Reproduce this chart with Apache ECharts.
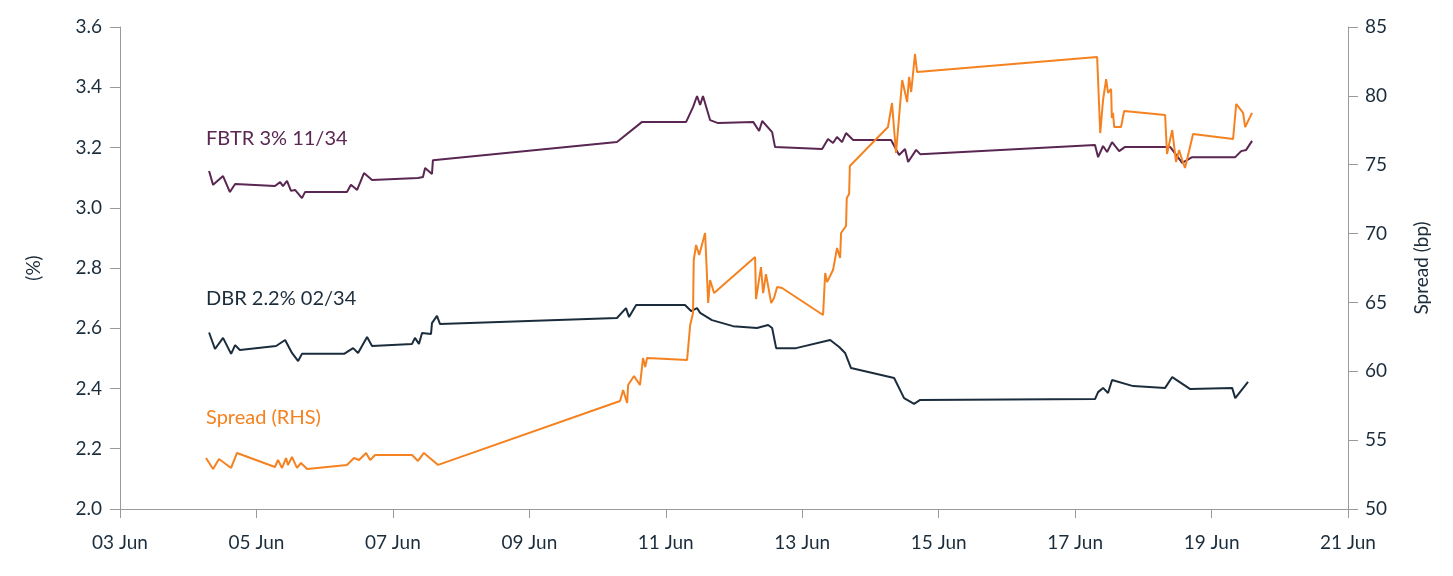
<!DOCTYPE html>
<html>
<head>
<meta charset="utf-8">
<script src="https://cdn.jsdelivr.net/npm/echarts@6/dist/echarts.min.js"></script>
<style>
  html, body { margin: 0; padding: 0; background: #fff; }
  #chart { width: 1453px; height: 576px; }
</style>
</head>
<body>
<div id="chart"></div>
<script>
// tick labels
const xTickDays = [3, 5, 7, 9, 11, 13, 15, 17, 19, 21];

// FBTR 3% 11/34 yield (%)
const fbtrTimes = [
  "2024-06-04 07:20", "2024-06-04 08:45", "2024-06-04 12:15", "2024-06-04 14:40", "2024-06-04 16:30",
  "2024-06-05 06:30", "2024-06-05 08:20", "2024-06-05 09:20", "2024-06-05 10:45", "2024-06-05 12:10",
  "2024-06-05 13:35", "2024-06-05 16:00", "2024-06-05 17:05", "2024-06-06 07:50", "2024-06-06 09:15",
  "2024-06-06 11:25", "2024-06-06 13:50", "2024-06-06 16:40", "2024-06-07 08:50", "2024-06-07 10:35",
  "2024-06-07 11:20", "2024-06-07 13:45", "2024-06-07 14:05", "2024-06-10 06:50", "2024-06-10 15:40",
  "2024-06-11 07:10", "2024-06-11 09:35", "2024-06-11 11:00", "2024-06-11 12:05", "2024-06-11 13:05",
  "2024-06-11 15:35", "2024-06-11 18:25", "2024-06-12 06:45", "2024-06-12 08:50", "2024-06-12 09:55",
  "2024-06-12 13:25", "2024-06-12 14:25", "2024-06-13 07:00", "2024-06-13 09:05", "2024-06-13 10:50",
  "2024-06-13 12:15", "2024-06-13 14:00", "2024-06-13 15:25", "2024-06-13 17:55", "2024-06-14 07:15",
  "2024-06-14 10:05", "2024-06-14 12:10", "2024-06-14 13:15", "2024-06-14 16:05", "2024-06-14 17:30",
  "2024-06-17 07:00", "2024-06-17 08:05", "2024-06-17 09:50", "2024-06-17 11:15", "2024-06-17 13:00",
  "2024-06-17 15:30", "2024-06-17 17:35", "2024-06-18 07:00", "2024-06-18 09:25", "2024-06-18 13:40",
  "2024-06-18 17:10", "2024-06-19 08:20", "2024-06-19 10:25", "2024-06-19 12:10", "2024-06-19 14:15"
];
const fbtrYield = [
  3.122, 3.076, 3.105, 3.052, 3.079,
  3.072, 3.085, 3.072, 3.089, 3.056,
  3.059, 3.032, 3.052, 3.052, 3.076,
  3.059, 3.115, 3.092, 3.099, 3.102,
  3.132, 3.112, 3.158, 3.218, 3.285,
  3.285, 3.334, 3.371, 3.341, 3.371,
  3.291, 3.281, 3.285, 3.255, 3.288,
  3.251, 3.202, 3.195, 3.228, 3.215,
  3.235, 3.218, 3.248, 3.225, 3.225,
  3.175, 3.195, 3.152, 3.192, 3.178,
  3.208, 3.168, 3.205, 3.185, 3.218,
  3.188, 3.202, 3.202, 3.202, 3.149,
  3.168, 3.168, 3.188, 3.192, 3.222
];

// DBR 2.2% 02/34 yield (%)
const dbrTimes = [
  "2024-06-04 07:20", "2024-06-04 09:25", "2024-06-04 12:15", "2024-06-04 15:05", "2024-06-04 16:30",
  "2024-06-04 18:10", "2024-06-05 06:55", "2024-06-05 10:05", "2024-06-05 12:30", "2024-06-05 14:40",
  "2024-06-05 16:00", "2024-06-06 06:50", "2024-06-06 10:00", "2024-06-06 11:45", "2024-06-06 14:55",
  "2024-06-06 16:40", "2024-06-07 06:45", "2024-06-07 07:45", "2024-06-07 09:10", "2024-06-07 10:15",
  "2024-06-07 13:25", "2024-06-07 13:45", "2024-06-07 15:30", "2024-06-07 16:35", "2024-06-10 06:50",
  "2024-06-10 10:00", "2024-06-10 11:05", "2024-06-10 13:35", "2024-06-11 06:45", "2024-06-11 08:55",
  "2024-06-11 11:00", "2024-06-11 12:05", "2024-06-11 16:15", "2024-06-11 23:40", "2024-06-12 08:05",
  "2024-06-12 12:00", "2024-06-12 13:25", "2024-06-12 14:50", "2024-06-12 21:50", "2024-06-13 09:50",
  "2024-06-13 13:00", "2024-06-13 15:05", "2024-06-13 17:10", "2024-06-14 08:20", "2024-06-14 11:50",
  "2024-06-14 15:20", "2024-06-14 17:30", "2024-06-17 07:00", "2024-06-17 08:05", "2024-06-17 09:50",
  "2024-06-17 11:35", "2024-06-17 13:00", "2024-06-17 20:25", "2024-06-18 07:40", "2024-06-18 10:10",
  "2024-06-18 16:30", "2024-06-19 07:15", "2024-06-19 08:20", "2024-06-19 12:50"
];
const dbrYield = [
  2.586, 2.531, 2.568, 2.515, 2.544,
  2.528, 2.541, 2.561, 2.518, 2.491,
  2.515, 2.515, 2.534, 2.518, 2.571,
  2.541, 2.548, 2.568, 2.548, 2.584,
  2.581, 2.617, 2.641, 2.614, 2.634,
  2.667, 2.637, 2.677, 2.677, 2.657,
  2.667, 2.651, 2.627, 2.607, 2.601,
  2.611, 2.601, 2.534, 2.534, 2.561,
  2.538, 2.518, 2.468, 2.435, 2.368,
  2.349, 2.362, 2.365, 2.388, 2.402,
  2.385, 2.428, 2.408, 2.402, 2.438,
  2.398, 2.402, 2.368, 2.422
];

// Spread (bp), right axis
const spreadTimes = [
  "2024-06-04 06:15", "2024-06-04 08:45", "2024-06-04 10:50", "2024-06-04 15:05", "2024-06-04 17:10",
  "2024-06-05 06:30", "2024-06-05 07:35", "2024-06-05 09:00", "2024-06-05 10:25", "2024-06-05 11:05",
  "2024-06-05 12:30", "2024-06-05 14:15", "2024-06-05 15:40", "2024-06-05 17:50", "2024-06-06 07:50",
  "2024-06-06 10:20", "2024-06-06 12:05", "2024-06-06 14:35", "2024-06-06 16:00", "2024-06-06 17:45",
  "2024-06-07 06:45", "2024-06-07 08:50", "2024-06-07 10:55", "2024-06-07 15:55", "2024-06-10 07:55",
  "2024-06-10 09:00", "2024-06-10 10:25", "2024-06-10 10:45", "2024-06-10 12:50", "2024-06-10 14:55",
  "2024-06-10 16:00", "2024-06-10 16:45", "2024-06-10 17:25", "2024-06-11 07:30", "2024-06-11 08:35",
  "2024-06-11 09:35", "2024-06-11 09:50", "2024-06-11 10:40", "2024-06-11 11:45", "2024-06-11 13:50",
  "2024-06-11 14:55", "2024-06-11 15:35", "2024-06-11 17:00", "2024-06-12 07:25", "2024-06-12 07:45",
  "2024-06-12 09:30", "2024-06-12 10:15", "2024-06-12 11:15", "2024-06-12 13:05", "2024-06-12 14:05",
  "2024-06-12 15:10", "2024-06-12 16:55", "2024-06-13 07:20", "2024-06-13 08:05", "2024-06-13 08:45",
  "2024-06-13 10:50", "2024-06-13 12:15", "2024-06-13 13:20", "2024-06-13 13:40", "2024-06-13 15:25",
  "2024-06-13 15:40", "2024-06-13 16:30", "2024-06-13 16:45", "2024-06-14 06:10", "2024-06-14 07:35",
  "2024-06-14 09:00", "2024-06-14 11:10", "2024-06-14 12:55", "2024-06-14 13:35", "2024-06-14 14:20",
  "2024-06-14 15:40", "2024-06-14 16:25", "2024-06-17 07:45", "2024-06-17 08:50", "2024-06-17 09:50",
  "2024-06-17 10:55", "2024-06-17 11:35", "2024-06-17 12:40", "2024-06-17 12:55", "2024-06-17 13:20",
  "2024-06-17 13:45", "2024-06-17 16:10", "2024-06-17 17:15", "2024-06-18 07:40", "2024-06-18 08:20",
  "2024-06-18 10:10", "2024-06-18 11:30", "2024-06-18 12:35", "2024-06-18 13:40", "2024-06-18 14:40",
  "2024-06-18 17:30", "2024-06-19 07:35", "2024-06-19 08:40", "2024-06-19 11:05", "2024-06-19 11:50",
  "2024-06-19 14:15"
];
const spreadBp = [
  53.70, 52.90, 53.63, 52.98, 54.07,
  53.05, 53.56, 52.98, 53.70, 53.20,
  53.78, 52.98, 53.34, 52.90, 53.20,
  53.70, 53.56, 54.07, 53.56, 53.92,
  53.92, 53.49, 54.07, 53.20, 57.84,
  58.64, 57.70, 59.00, 59.66, 59.00,
  60.96, 60.31, 60.96, 60.82, 63.36,
  64.23, 68.08, 69.17, 68.44, 70.04,
  64.96, 66.63, 65.68, 68.30, 65.25,
  67.57, 65.68, 67.06, 64.96, 65.32,
  66.12, 66.05, 64.09, 67.14, 66.48,
  67.35, 68.95, 68.23, 70.04, 70.55,
  72.58, 72.87, 74.91, 77.74, 79.48,
  75.85, 81.15, 79.55, 81.37, 80.28,
  83.04, 81.73, 82.82, 77.30, 79.70,
  81.22, 80.21, 80.50, 78.39, 78.76,
  77.74, 77.74, 78.90, 78.61, 75.78,
  77.52, 75.20, 76.07, 75.34, 74.76,
  77.23, 76.87, 79.41, 78.76, 77.74,
  78.76
];

// days since 1 Jun, so the 2-day ticks land on odd dates
function toDay(s) {
  const d = +s.slice(8, 10), h = +s.slice(11, 13), m = +s.slice(14, 16);
  return d - 1 + h / 24 + m / 1440;
}
function pairs(times, vals) {
  return times.map((t, i) => [toDay(t), vals[i]]);
}

const navy = "#1b2d3c";
const purple = "#5a2652";
const orange = "#f58220";
const axisGrey = "#9a9a9a";
const font = "Lato";

let myChart = echarts.init(document.getElementById("chart"));

let option = {
  animation: false,
  textStyle: { fontFamily: font },
  grid: { left: 120, right: 105, top: 27, bottom: 67 },
  xAxis: {
    type: "value",
    min: xTickDays[0] - 1,
    max: xTickDays[xTickDays.length - 1] - 1,
    interval: 2,
    axisLine: { show: true, lineStyle: { color: axisGrey, width: 1 } },
    axisTick: { show: true, length: 9, lineStyle: { color: axisGrey } },
    splitLine: { show: false },
    axisLabel: {
      color: navy,
      fontSize: 19,
      fontFamily: font,
      margin: 24,
      formatter: (v) => String(v + 1).padStart(2, "0") + " Jun",
    },
  },
  yAxis: [
    {
      type: "value",
      min: 2.0,
      max: 3.6,
      interval: 0.2,
      name: "(%)",
      nameLocation: "middle",
      nameGap: 77,
      nameTextStyle: { color: navy, fontSize: 19, fontFamily: font },
      axisLine: { show: true, lineStyle: { color: axisGrey, width: 1 } },
      axisTick: { show: true, length: 10, lineStyle: { color: axisGrey } },
      splitLine: { show: false },
      axisLabel: {
        color: navy,
        fontSize: 19,
        fontFamily: font,
        margin: 18,
        formatter: (v) => v.toFixed(1),
      },
    },
    {
      type: "value",
      min: 50,
      max: 85,
      interval: 5,
      position: "right",
      name: "Spread (bp)",
      nameLocation: "middle",
      nameGap: 64,
      nameTextStyle: { color: navy, fontSize: 19, fontFamily: font },
      axisLine: { show: true, lineStyle: { color: axisGrey, width: 1 } },
      axisTick: { show: true, length: 10, lineStyle: { color: axisGrey } },
      splitLine: { show: false },
      axisLabel: { color: navy, fontSize: 19, fontFamily: font, margin: 17 },
    },
  ],
  graphic: [
    { type: "text", left: 206, top: 129, style: { text: "FBTR 3% 11/34", fill: purple, font: "20px Lato" } },
    { type: "text", left: 206, top: 289, style: { text: "DBR 2.2% 02/34", fill: navy, font: "20px Lato" } },
    { type: "text", left: 206, top: 408, style: { text: "Spread (RHS)", fill: orange, font: "20px Lato" } },
  ],
  series: [
    {
      name: "FBTR 3% 11/34",
      type: "line",
      yAxisIndex: 0,
      data: pairs(fbtrTimes, fbtrYield),
      showSymbol: false,
      lineStyle: { color: purple, width: 2 },
      itemStyle: { color: purple },
    },
    {
      name: "DBR 2.2% 02/34",
      type: "line",
      yAxisIndex: 0,
      data: pairs(dbrTimes, dbrYield),
      showSymbol: false,
      lineStyle: { color: navy, width: 2 },
      itemStyle: { color: navy },
    },
    {
      name: "Spread (RHS)",
      type: "line",
      yAxisIndex: 1,
      data: pairs(spreadTimes, spreadBp),
      showSymbol: false,
      lineStyle: { color: orange, width: 2 },
      itemStyle: { color: orange },
    },
  ],
};
option && myChart.setOption(option);
</script>
</body>
</html>
